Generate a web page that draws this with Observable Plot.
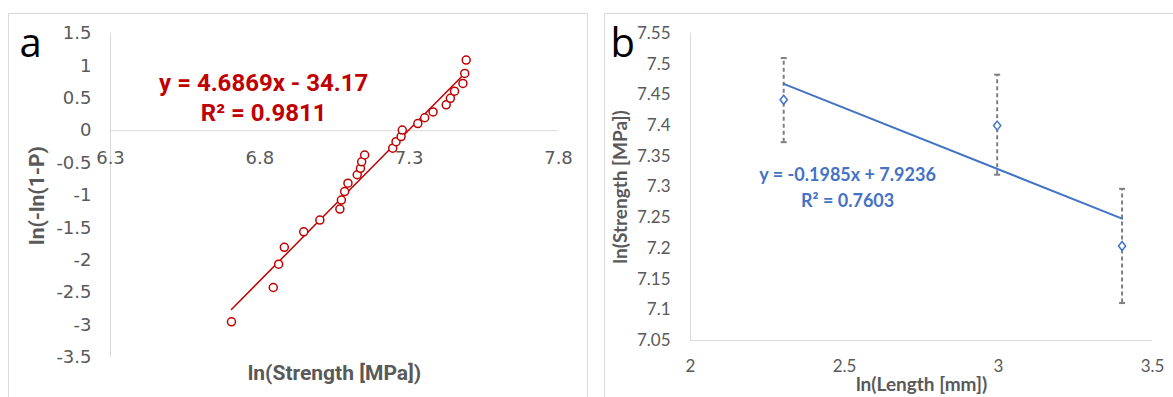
<!DOCTYPE html>
<html>
<head>
<meta charset="utf-8">
<script src="https://cdn.jsdelivr.net/npm/d3@7"></script>
<script src="https://cdn.jsdelivr.net/npm/@observablehq/plot@0.6"></script>
<style>
  html, body { margin: 0; padding: 0; background: #fff; }
  #wrap { position: relative; width: 1173px; height: 397px; overflow: hidden; background: #fff; }
  .box { position: absolute; border: 1px solid #d9d9d9; pointer-events: none; }
  #wrap svg { position: absolute; top: 0; }
</style>
</head>
<body>
<div id="wrap">
  <div class="box" style="left:8px; top:13px; width:578px; height:420px;"></div>
  <div class="box" style="left:604px; top:13px; width:620px; height:420px;"></div>
</div>
<script>
// ---------- Panel a: Weibull plot ----------
const aStrength = [6.705, 6.845, 6.863, 6.882, 6.947, 7.001, 7.068, 7.073, 7.084, 7.095, 7.126, 7.137, 7.141, 7.151,
                   7.245, 7.256, 7.273, 7.277, 7.329, 7.352, 7.380, 7.424, 7.438, 7.452, 7.480, 7.486, 7.491];
const aWeibull  = [-2.95, -2.42, -2.06, -1.80, -1.56, -1.38, -1.21, -1.07, -0.94, -0.81, -0.68, -0.58, -0.48, -0.375,
                   -0.27, -0.17, -0.09, 0.01, 0.11, 0.20, 0.29, 0.40, 0.50, 0.61, 0.73, 0.884, 1.09];
const aXTicks = [6.3, 6.8, 7.3, 7.8];
const aYTicks = [1.5, 1, 0.5, 0, -0.5, -1, -1.5, -2, -2.5, -3, -3.5];
const aEquation = "y = 4.6869x - 34.17\nR² = 0.9811";

// ---------- Panel b: size effect ----------
const bLength   = [2.3026, 2.9957, 3.4012];
const bStrength = [7.442, 7.400, 7.204];
const bErrLow   = [7.373, 7.320, 7.111];
const bErrHigh  = [7.510, 7.483, 7.297];
const bXTicks = [2, 2.5, 3, 3.5];
const bYTicks = [7.05, 7.1, 7.15, 7.2, 7.25, 7.3, 7.35, 7.4, 7.45, 7.5, 7.55];
const bEquation = "y = -0.1985x + 7.9236\nR² = 0.7603";

const aRows = aStrength.map((x, i) => ({x, y: aWeibull[i]}));
const bRows = bLength.map((x, i) => ({x, y: bStrength[i], lo: bErrLow[i], hi: bErrHigh[i]}));

const RED = "#c00000", BLUE = "#4472c4", GRAY = "#595959", LINE = "#d9d9d9", ERR = "#7f7f7f";

const capSymbol = { draw(ctx, size) { const w = Math.sqrt(size / Math.PI); ctx.moveTo(-w, 0); ctx.lineTo(w, 0); } };
const diamondSymbol = { draw(ctx, size) { const r = Math.sqrt(size / Math.PI);
  ctx.moveTo(0, -r); ctx.lineTo(r * 0.8, 0); ctx.lineTo(0, r); ctx.lineTo(-r * 0.8, 0); ctx.closePath(); } };

const chartA = Plot.plot({
  width: 590, height: 397,
  marginLeft: 110, marginRight: 32, marginTop: 33, marginBottom: 40,
  style: {background: "transparent", overflow: "visible"},
  x: {domain: [6.3, 7.8], axis: null},
  y: {domain: [-3.5, 1.5]},
  marks: [
    Plot.ruleY([0], {stroke: LINE, strokeWidth: 1}),
    Plot.ruleX([6.3], {stroke: LINE, strokeWidth: 1}),
    Plot.axisY(aYTicks, {tickSize: 0, tickPadding: 19, tickFormat: d => String(d), label: null,
      fontSize: 18, fontFamily: "DejaVu Sans", fill: GRAY}),
    Plot.text(aXTicks, {x: d => d, y: 0, dy: 28, text: d => String(d),
      fontSize: 18, fontFamily: "DejaVu Sans", fill: GRAY}),
    Plot.linearRegressionY(aRows, {x: "x", y: "y", stroke: RED, strokeWidth: 1.5, ci: 0}),
    Plot.dot(aRows, {x: "x", y: "y", r: 4, stroke: RED, strokeWidth: 1.5, fill: "white"}),
    Plot.text([aEquation], {x: 6.813, y: 0.525, text: d => d, fill: RED, fontSize: 24,
      fontFamily: "Roboto", fontWeight: "bold", lineHeight: 1.25}),
    Plot.text(["ln(-ln(1-P)"], {frameAnchor: "left", dx: -73, rotate: -90, text: d => d,
      textAnchor: "middle", lineAnchor: "middle",
      fontSize: 21, fontFamily: "Roboto", fontWeight: "bold", fill: GRAY}),
    Plot.text(["ln(Strength [MPa])"], {frameAnchor: "bottom", dy: 16, text: d => d,
      textAnchor: "middle", lineAnchor: "middle",
      fontSize: 21, fontFamily: "Roboto", fontWeight: "bold", fill: GRAY}),
    Plot.text(["a"], {frameAnchor: "top-left", dx: -91, dy: 11, textAnchor: "start", lineAnchor: "middle",
      text: d => d, fontSize: 40, fontFamily: "Open Sans", fill: "#000"})
  ]
});

const chartB = Plot.plot({
  width: 583, height: 397,
  marginLeft: 100, marginRight: 21, marginTop: 33, marginBottom: 57,
  style: {background: "transparent", overflow: "visible"},
  x: {domain: [2, 3.5]},
  y: {domain: [7.05, 7.55]},
  marks: [
    Plot.ruleY([7.05], {stroke: LINE, strokeWidth: 1}),
    Plot.ruleX([2], {stroke: LINE, strokeWidth: 1}),
    Plot.axisY(bYTicks, {tickSize: 0, tickPadding: 20, tickFormat: d => String(d), label: null,
      fontSize: 17, fontFamily: "Lato", fill: GRAY}),
    Plot.axisX(bXTicks, {tickSize: 0, tickPadding: 19, tickFormat: d => String(d), label: null,
      fontSize: 17, fontFamily: "Lato", fill: GRAY}),
    Plot.ruleX(bRows, {x: "x", y1: "lo", y2: "hi", stroke: ERR, strokeWidth: 2, strokeDasharray: "4,3"}),
    Plot.dot(bRows, {x: "x", y: "hi", symbol: capSymbol, r: 3, stroke: ERR, strokeWidth: 2}),
    Plot.dot(bRows, {x: "x", y: "lo", symbol: capSymbol, r: 3, stroke: ERR, strokeWidth: 2}),
    Plot.linearRegressionY(bRows, {x: "x", y: "y", stroke: BLUE, strokeWidth: 2, ci: 0}),
    Plot.dot(bRows, {x: "x", y: "y", symbol: diamondSymbol, r: 4.5, stroke: BLUE, strokeWidth: 1.5, fill: "white"}),
    Plot.text([bEquation], {x: 2.51, y: 7.302, text: d => d, fill: BLUE, fontSize: 18,
      fontFamily: "Lato", fontWeight: "bold", lineHeight: 1.45}),
    Plot.text(["ln(Strength [MPa])"], {frameAnchor: "left", dx: -70, rotate: -90, text: d => d,
      textAnchor: "middle", lineAnchor: "middle",
      fontSize: 19, fontFamily: "Lato", fontWeight: "bold", fill: GRAY}),
    Plot.text(["ln(Length [mm])"], {frameAnchor: "bottom", dy: 44, text: d => d,
      textAnchor: "middle", lineAnchor: "middle",
      fontSize: 19, fontFamily: "Lato", fontWeight: "bold", fill: GRAY}),
    Plot.text(["b"], {frameAnchor: "top-left", dx: -80, dy: 11, textAnchor: "start", lineAnchor: "middle",
      text: d => d, fontSize: 40, fontFamily: "Open Sans", fill: "#000"})
  ]
});

const wrap = document.getElementById("wrap");
chartA.style.left = "0px";
chartB.style.left = "590px";
wrap.insertBefore(chartA, wrap.firstChild);
wrap.insertBefore(chartB, wrap.firstChild);
</script>
</body>
</html>
